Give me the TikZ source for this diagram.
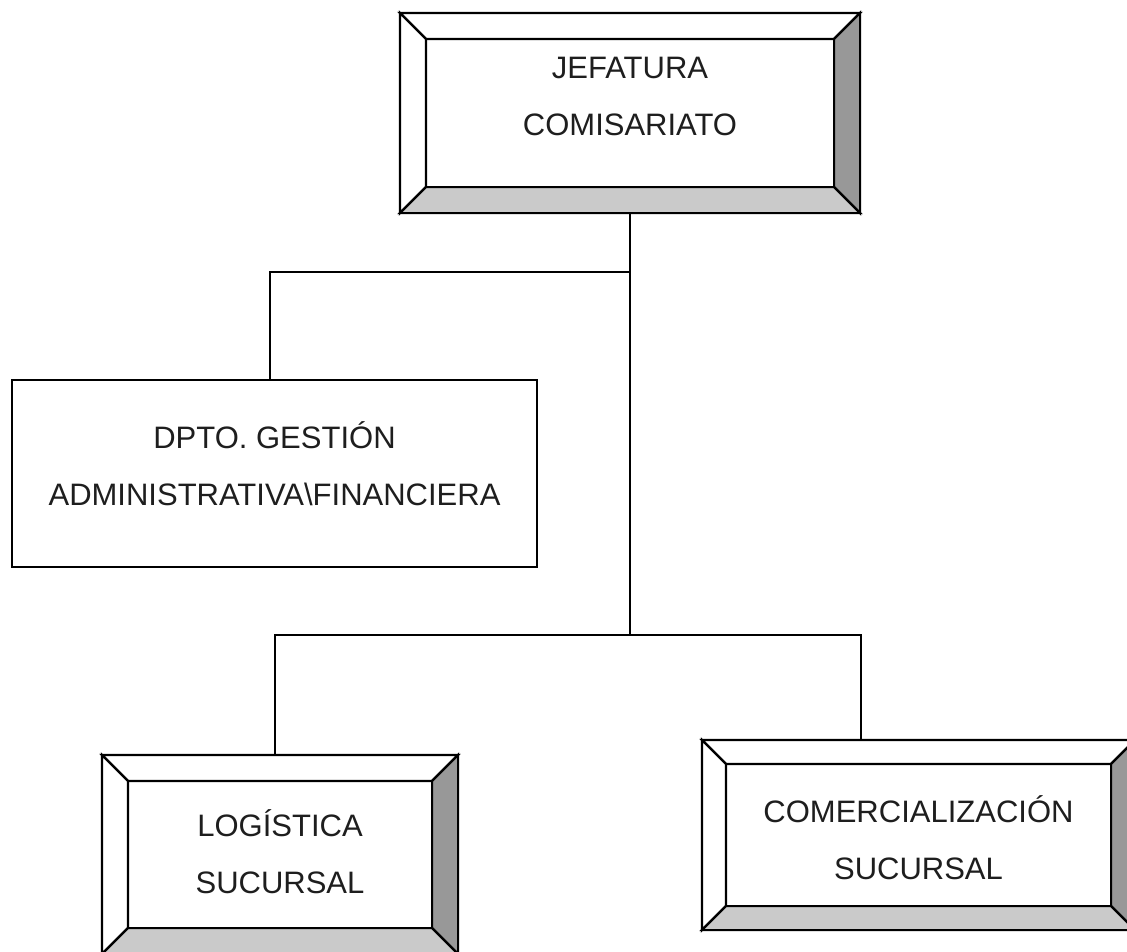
\documentclass[tikz,border=0pt]{standalone}
\usepackage{fontspec}
\setmainfont{Liberation Sans}
\usetikzlibrary{positioning,calc}

\definecolor{bevelside}{RGB}{152,152,152}
\definecolor{bevelbase}{RGB}{202,202,202}
\definecolor{inktext}{RGB}{30,30,30}

% raised frame round a box node: #1 node name, #2 bevel width
\newcommand{\bevelframe}[2]{%
	\filldraw[fill=white] (#1.north west) -- (#1.north east) -- ([shift={(-#2,#2)}]#1.north east) -- ([shift={(#2,#2)}]#1.north west) -- cycle;
	\filldraw[fill=white] (#1.north west) -- ([shift={(#2,#2)}]#1.north west) -- ([shift={(#2,-#2)}]#1.south west) -- (#1.south west) -- cycle;
	\filldraw[fill=bevelside] (#1.north east) -- (#1.south east) -- ([shift={(-#2,-#2)}]#1.south east) -- ([shift={(-#2,#2)}]#1.north east) -- cycle;
	\filldraw[fill=bevelbase] (#1.south west) -- ([shift={(#2,-#2)}]#1.south west) -- ([shift={(-#2,-#2)}]#1.south east) -- (#1.south east) -- cycle;
}

\begin{document}
\begin{tikzpicture}[x=1pt,y=-1pt,line width=2.2pt,
										orgbox/.style={draw,rectangle,fill=white,inner sep=0pt},
										boxtext/.style={align=center,inner sep=0pt,text=inktext,font=\fontsize{31}{57}\selectfont}
										]
	\fill[white] (0,0) rectangle (1127,951);
	\useasboundingbox (0,0) rectangle (1127,951);

	\node[orgbox,minimum width=458pt,minimum height=198pt] (jefe) at (630,113) {};
	\node[orgbox,minimum width=525pt,minimum height=187pt] (dpto) at (274.5,473.5) {};
	\node[orgbox,minimum width=354pt,minimum height=197pt] (logis) at (280,854.5) {};
	\node[orgbox,minimum width=431pt,minimum height=188pt] (comer) at (918.5,835) {};

	\bevelframe{jefe}{26}
	\bevelframe{logis}{26}
	\bevelframe{comer}{24}

	\node[boxtext] (jefe-txt) at ([yshift=17pt]jefe.center) {JEFATURA\\COMISARIATO};
	\node[boxtext] (dpto-txt) at ([yshift=10pt]dpto.center) {DPTO. GESTIÓN\\ADMINISTRATIVA\textbackslash FINANCIERA};
	\node[boxtext] (logis-txt) at ([yshift=3pt]logis.center) {LOGÍSTICA\\SUCURSAL};
	\node[boxtext] (comer-txt) at ([yshift=-3pt]comer.center) {COMERCIALIZACIÓN\\SUCURSAL};

	\coordinate (bus1) at (270,272);
	\coordinate (busL) at (275,635);
	\coordinate (busR) at (861,635);

	\draw (jefe.south) -- (jefe.south |- busR);
	\draw (jefe.south |- bus1) -- (bus1) -- (bus1 |- dpto.north);
	\draw (busL |- logis.north) -- (busL) -- (busR) -- (busR |- comer.north);

\end{tikzpicture}
\end{document}
